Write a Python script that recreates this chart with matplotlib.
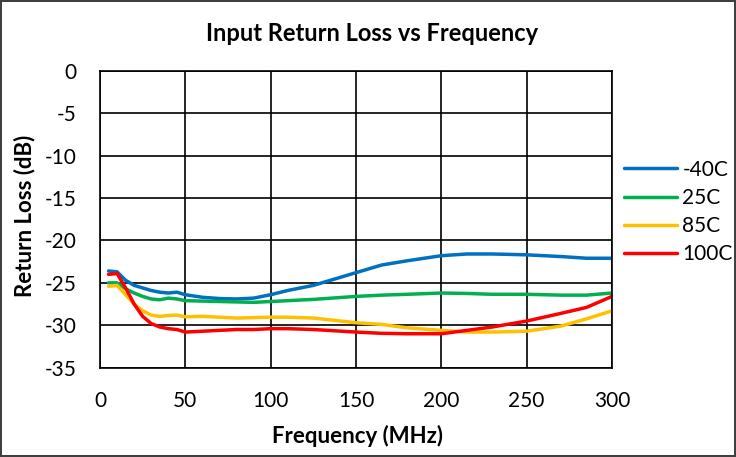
import matplotlib
matplotlib.use('Agg')
import matplotlib.pyplot as plt

plt.rcParams['font.family'] = ['Lato', 'DejaVu Sans']
plt.rcParams['axes.unicode_minus'] = False

# Frequency sweep (MHz)
freq = [5, 10, 15, 20, 25, 30, 35, 40, 45, 50, 60, 70, 80, 90, 100, 110,
        125, 150, 165, 180, 200, 215, 230, 250, 270, 285, 300]

# Return loss (dB) per temperature
rl_m40 = [-23.6, -23.7, -24.7, -25.3, -25.6, -25.9, -26.1, -26.2, -26.1, -26.4,
          -26.7, -26.85, -26.9, -26.8, -26.4, -25.9, -25.3, -23.8, -22.9, -22.4,
          -21.8, -21.6, -21.6, -21.7, -21.9, -22.1, -22.1]
rl_25 = [-25.0, -25.0, -25.7, -26.2, -26.6, -26.9, -27.0, -26.8, -26.9, -27.1,
         -27.15, -27.2, -27.25, -27.3, -27.2, -27.1, -26.95, -26.6, -26.45, -26.35,
         -26.2, -26.25, -26.35, -26.35, -26.45, -26.45, -26.2]
rl_85 = [-25.4, -25.3, -26.4, -27.5, -28.3, -28.8, -28.95, -28.85, -28.8, -29.0,
         -28.95, -29.05, -29.15, -29.1, -29.05, -29.05, -29.15, -29.7, -29.9, -30.3,
         -30.6, -30.8, -30.8, -30.7, -30.1, -29.25, -28.3]
rl_100 = [-24.0, -23.9, -25.6, -27.5, -28.95, -29.8, -30.2, -30.4, -30.5, -30.8,
          -30.7, -30.6, -30.5, -30.5, -30.4, -30.4, -30.5, -30.8, -30.95, -31.0,
          -31.0, -30.6, -30.2, -29.5, -28.6, -27.9, -26.6]

labels = ['-40C', '25C', '85C', '100C']
colors = ['#0070C0', '#00B050', '#FFC000', '#FF0000']
series = [rl_m40, rl_25, rl_85, rl_100]

W, H = 736, 457
fig = plt.figure(figsize=(W / 100, H / 100), dpi=100)
fig.patch.set_edgecolor('#404040')
fig.patch.set_linewidth(1.5)
ax = fig.add_axes([100 / W, 1 - 367.7 / H, 512 / W, 297 / H])

for vals, lab, col in zip(series, labels, colors):
    ax.plot(freq, vals, color=col, lw=2.5, label=lab, solid_capstyle='round')

ax.set_xlim(0, 300)
ax.set_ylim(-35, 0)
ax.set_xticks(range(0, 301, 50))
ax.set_yticks(range(-35, 1, 5))
ax.grid(True, color='black', lw=1.2)
ax.set_axisbelow(True)
for s in ax.spines.values():
    s.set_color('black')
    s.set_linewidth(1.2)
ax.tick_params(length=0, labelsize=15, colors='black')
ax.tick_params(axis='y', pad=17)
ax.tick_params(axis='x', pad=17)

fig.text(371.7 / W, 1 - 41 / H, 'Input Return Loss vs Frequency', fontsize=17,
         fontweight='bold', ha='center', va='baseline')
fig.text(358 / W, 1 - 443 / H, 'Frequency (MHz)', fontsize=16,
         fontweight='bold', ha='center', va='baseline')
fig.text(25 / W, 1 - 216 / H, 'Return Loss (dB)', fontsize=16,
         fontweight='bold', ha='center', va='center', rotation=90)

ax.legend(loc='center left', bbox_to_anchor=(624 / W, 1 - 212 / H),
          bbox_transform=fig.transFigure, frameon=False, borderpad=0,
          borderaxespad=0, fontsize=15, handlelength=2.55,
          handletextpad=0.25, labelspacing=0.4)

fig.savefig('out.png', dpi=100)
